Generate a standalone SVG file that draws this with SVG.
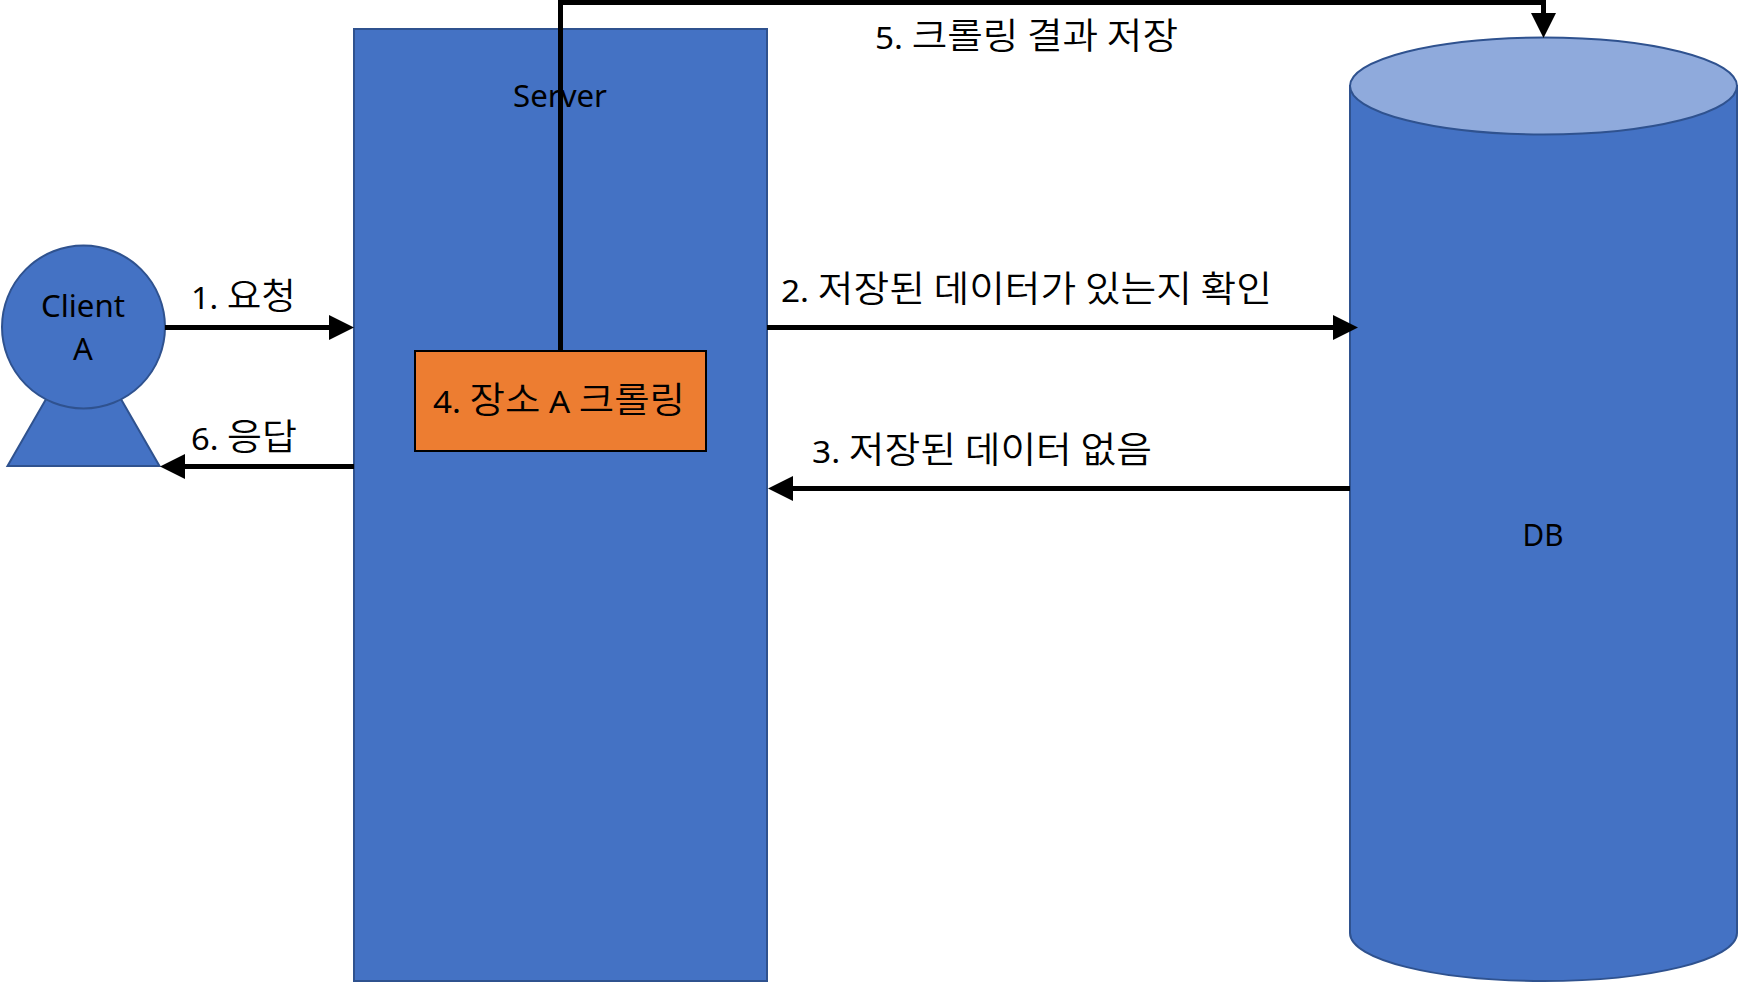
<svg xmlns="http://www.w3.org/2000/svg" width="1738" height="982" viewBox="0 0 1738 982">
  <style>
    text { font-family: "Noto Sans", "Noto Sans CJK KR", sans-serif; font-size: 31px; fill: #000; }
    .ko { font-family: "Noto Sans CJK KR", sans-serif; font-size: 36px; font-weight: 350; }
    .mid { text-anchor: middle; }
    .shape { fill: #4472c4; stroke: #2f528f; stroke-width: 2; }
    .wire { fill: none; stroke: #000; stroke-width: 5; }
  </style>
  <defs>
    <!-- The line stops at the base of the head, so its square end never pokes past the tip -->
    <marker id="head" markerUnits="userSpaceOnUse" markerWidth="25" markerHeight="25" refX="0" refY="12.500" orient="auto">
      <path d="M0 0 L25 12.500 L0 25 Z" fill="#000"/>
    </marker>
  </defs>
  <rect width="1738" height="982" fill="#fff"/>

  <g id="client">
    <path class="shape" d="M83.500 334 L159.500 466 L7.500 466 Z"/>
    <circle class="shape" cx="83.500" cy="327" r="81.500"/>
    <text class="mid" x="83" y="317" textLength="84" lengthAdjust="spacingAndGlyphs">Client</text>
    <text class="mid" x="83" y="360">A</text>
  </g>

  <g id="server">
    <rect class="shape" x="354" y="29" width="413" height="952"/>
    <text class="mid" x="560" y="107" textLength="94" lengthAdjust="spacingAndGlyphs">Server</text>
  </g>

  <g id="db">
    <path class="shape" d="M1350 86 V933 C1350 960 1437 981 1543.500 981 C1650 981 1737 960 1737 933 V86 Z"/>
    <ellipse cx="1543.500" cy="86" rx="193.500" ry="48.500" fill="#8faadc" stroke="#2f528f" stroke-width="2"/>
    <text class="mid" x="1543" y="546" textLength="41" lengthAdjust="spacingAndGlyphs">DB</text>
  </g>

  <g id="connectors">
    <path class="wire" d="M165 327.500 H329" marker-end="url(#head)"/>
    <path class="wire" d="M354 466.500 H185" marker-end="url(#head)"/>
    <path class="wire" d="M767 327.500 H1333" marker-end="url(#head)"/>
    <path class="wire" d="M1350 488.500 H793" marker-end="url(#head)"/>
    <path class="wire" d="M560.500 351 V2.500 H1543.500 V13" marker-end="url(#head)"/>
  </g>

  <g id="throttle">
    <rect x="415" y="351" width="291" height="100" fill="#ed7d31" stroke="#000" stroke-width="2"/>
    <text x="433" y="412.500" textLength="252" lengthAdjust="spacingAndGlyphs">4. <tspan class="ko">장소</tspan> A <tspan class="ko">크롤링</tspan></text>
  </g>

  <g id="labels">
    <text x="191" y="308.500" textLength="105" lengthAdjust="spacingAndGlyphs">1. <tspan class="ko">요청</tspan></text>
    <text x="191" y="450" textLength="106" lengthAdjust="spacingAndGlyphs">6. <tspan class="ko">응답</tspan></text>
    <text x="781" y="301.500" textLength="491" lengthAdjust="spacingAndGlyphs">2. <tspan class="ko">저장된 데이터가 있는지 확인</tspan></text>
    <text x="812" y="463" textLength="340" lengthAdjust="spacingAndGlyphs">3. <tspan class="ko">저장된 데이터 없음</tspan></text>
    <text x="875" y="49" textLength="303" lengthAdjust="spacingAndGlyphs">5. <tspan class="ko">크롤링 결과 저장</tspan></text>
  </g>
</svg>
